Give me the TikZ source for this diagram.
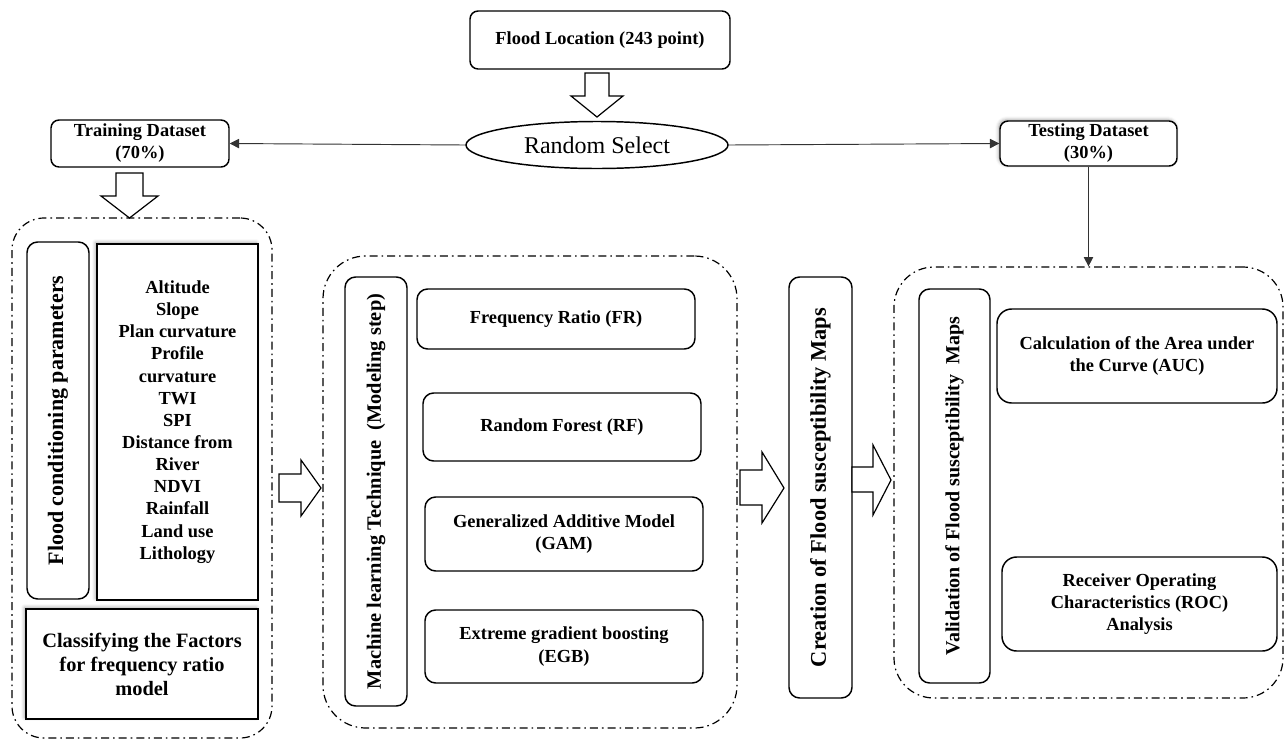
\documentclass[tikz,border=0pt]{standalone}
\usepackage{fontspec}
\setmainfont{Liberation Serif}
\usetikzlibrary{arrows.meta,shapes.geometric,shadows.blur}
\newcommand\fclbl{\fontsize{13.8}{16.6}\selectfont\bfseries}
\begin{document}
\begin{tikzpicture}[x=0.75pt,y=-0.75pt,
  box/.style={draw,line width=1.1pt,rounded corners=6pt,align=center,inner sep=0pt,fill=white,font=\fclbl},
  sbox/.style={draw,line width=1.1pt,align=center,inner sep=0pt,fill=white,font=\fclbl,
    blur shadow={shadow xshift=-1.2pt,shadow yshift=1.2pt,shadow blur radius=2.5pt,shadow opacity=35}},
  vbox/.style={box,rotate=90,rounded corners=8pt},
  cont/.style={draw,line width=0.9pt,dash pattern=on 6pt off 3pt on 1.2pt off 3pt,inner sep=0pt},
  barrow/.style={draw,line width=0.9pt,fill=white,line join=miter},
  conn/.style={draw=black!80,line width=0.7pt,-{Triangle[length=7pt,width=7pt]}}
]
\useasboundingbox (0,0) rectangle (1286,743);

% containers
\node[cont,rounded corners=24pt,minimum width=195pt,minimum height=390pt] (leftc) at (142,478) {};
\node[cont,rounded corners=32pt,minimum width=310.5pt,minimum height=354pt] (midc) at (530,492) {};
\node[cont,rounded corners=30pt,minimum width=291.75pt,minimum height=323.25pt] (valc) at (1088.5,482.5) {};

% top part
\node[box,minimum width=195pt,minimum height=43.5pt] (flood) at (600,40) {Flood Location (243 point)};
\node[draw,ellipse,line width=1.1pt,inner sep=0pt,minimum width=196.5pt,minimum height=35.25pt,
      font=\fontsize{18}{20}\selectfont] (select) at (597,145) {Random Select};
\node[box,minimum width=133.5pt,minimum height=35.25pt] (train) at (140,143.5) {Training Dataset\\(70\%)};
\node[box,minimum width=132.75pt,minimum height=33.75pt,
      blur shadow={shadow xshift=-1pt,shadow yshift=1pt,shadow blur radius=2.5pt,shadow opacity=35}] (test) at (1088.5,143.5) {Testing Dataset\\(30\%)};

\draw[conn] (select.west) -- (train.east);
\draw[conn] (select.east) -- (test.west);
\draw[conn] (test.south) -- (valc.north);

% left group
\node[vbox,minimum width=267.75pt,minimum height=46.5pt,font=\fontsize{16.5}{18}\selectfont\bfseries] (fcp) at (58,420.5) {Flood conditioning parameters};
\node[sbox,minimum width=120.75pt,minimum height=267pt] (list) at (177.5,422)
  {Altitude\\Slope\\Plan curvature\\Profile\\curvature\\TWI\\SPI\\Distance from\\River\\NDVI\\Rainfall\\Land use\\Lithology};
\node[sbox,minimum width=174pt,minimum height=82.5pt,font=\fontsize{15.3}{18}\selectfont\bfseries] (classify) at (142,664)
  {Classifying the Factors\\for frequency ratio\\model};

% middle group
\node[vbox,minimum width=321.75pt,minimum height=46.5pt,font=\fontsize{15.3}{17}\selectfont\bfseries] (mlt) at (376,491.5) {Machine learning Technique~~(Modeling step)};
\node[box,rounded corners=8pt,minimum width=208.5pt,minimum height=45pt] (fr) at (556,319) {Frequency Ratio (FR)};
\node[box,rounded corners=8pt,minimum width=208.5pt,minimum height=51pt] (rf) at (562,427) {Random Forest (RF)};
\node[box,rounded corners=8pt,minimum width=208.5pt,minimum height=55.5pt] (gam) at (564,534) {Generalized Additive Model\\(GAM)};
\node[box,rounded corners=8pt,minimum width=208.5pt,minimum height=54.75pt] (egb) at (564,646.5) {Extreme gradient boosting\\(EGB)};

% creation
\node[vbox,minimum width=315.75pt,minimum height=47.25pt,font=\fontsize{16.8}{18}\selectfont\bfseries] (creation) at (820.5,487.5) {Creation of Flood susceptibility Maps};

% validation group
\node[vbox,minimum width=295.5pt,minimum height=53.25pt,font=\fontsize{15}{17}\selectfont\bfseries] (valv) at (954.5,486) {Validation of Flood susceptibility~~Maps};
\node[box,rounded corners=11pt,minimum width=210pt,minimum height=70.5pt] (auc) at (1137,356) {Calculation of the Area under\\the Curve (AUC)};
\node[box,rounded corners=11pt,minimum width=206.25pt,minimum height=70.5pt] (roc) at (1139.5,604) {Receiver Operating\\Characteristics (ROC)\\Analysis};

% block arrows
\draw[barrow] (585,73) -- (609,73) -- (609,96) -- (623,96) -- (597,117) -- (571,96) -- (585,96) -- cycle;
\draw[barrow] (116,173) -- (143,173) -- (143,196) -- (158,196) -- (129.5,218) -- (101,196) -- (116,196) -- cycle;
\draw[barrow] (279,474) -- (301,474) -- (301,460) -- (321,488) -- (301,516) -- (301,502) -- (279,502) -- cycle;
\draw[barrow] (740,470) -- (762,470) -- (762,452) -- (784,488) -- (762,523) -- (762,505) -- (740,505) -- cycle;
\draw[barrow] (852,467) -- (873,467) -- (873,445) -- (891,480) -- (873,515) -- (873,492) -- (852,492) -- cycle;
\end{tikzpicture}
\end{document}
